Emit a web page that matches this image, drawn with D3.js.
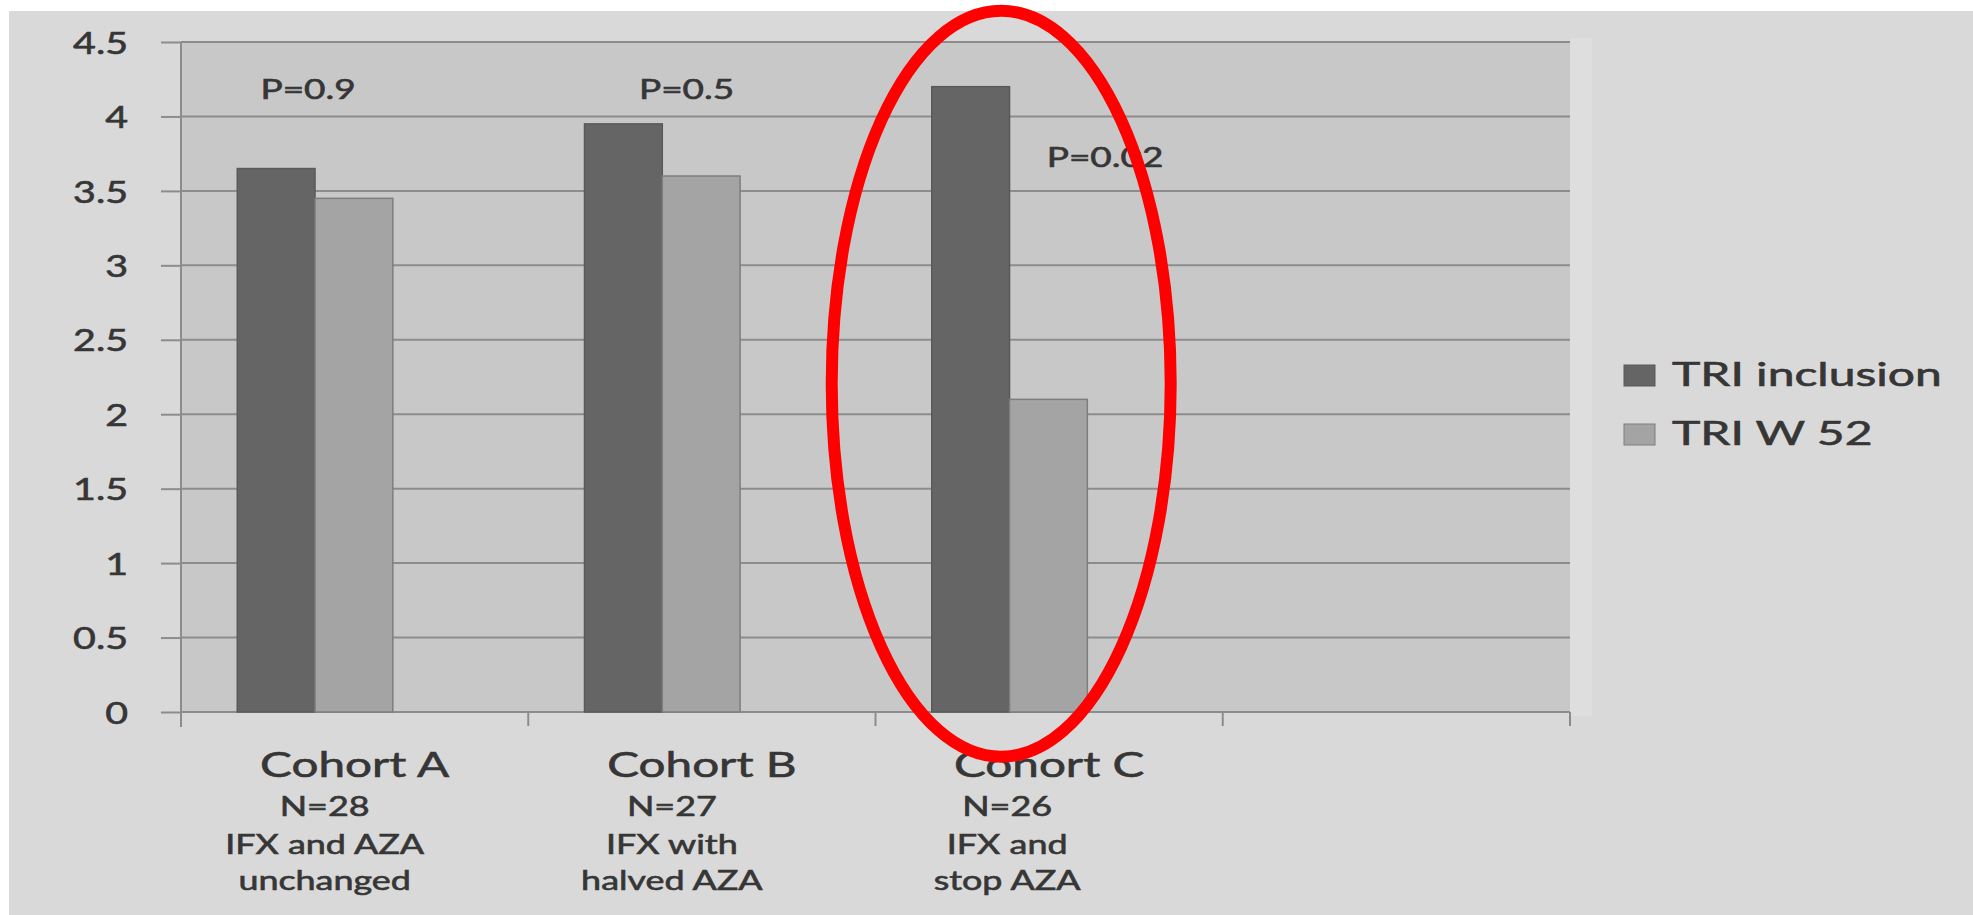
<!DOCTYPE html>
<html>
<head>
<meta charset="utf-8">
<script src="https://cdn.jsdelivr.net/npm/d3@7"></script>
<style>
  body { margin: 0; background: #ffffff; }
  svg { display: block; }
  text { font-family: Lato, "Open Sans", sans-serif; fill: #363636; stroke: #363636; stroke-width: 0.6px; }
</style>
</head>
<body>
<svg id="chart" width="1973" height="915"></svg>
<script>
// ---- data ----
const categories = ["Cohort A", "Cohort B", "Cohort C"];
const seriesNames = ["TRI inclusion", "TRI W 52"];
const triInclusion = [3.65, 3.95, 4.2];
const triW52 = [3.45, 3.6, 2.1];
const pLabels = ["P=0.9", "P=0.5", "P=0.02"];
const cohortSize = ["N=28", "N=27", "N=26"];
const regimenLine1 = ["IFX and AZA", "IFX with", "IFX and"];
const regimenLine2 = ["unchanged", "halved AZA", "stop AZA"];
const yTickValues = [0, 0.5, 1, 1.5, 2, 2.5, 3, 3.5, 4, 4.5];

// ---- layout ----
const W = 1973, H = 915;
const plot = { left: 181, right: 1570, top: 42, bottom: 712 };
const colors = { dark: "#656565", light: "#a4a4a4", grid: "#8c8c8c", page: "#d9d9d9", plotBg: "#c8c8c8" };
// P-value annotation anchors: fraction of band width and value height
const pAnchor = [{ f: 0.366, v: 4.12 }, { f: 0.456, v: 4.12 }, { f: 0.661, v: 3.66 }];
// horizontal offset of each cohort's description block from its band centre
const blockShift = [-30, -30, -42];
const stretch = { tick: 1.27, p: 1.42, title: 1.38, sub: 1.38, legend: 1.5 };

const svg = d3.select("#chart");

// slots: three cohorts plus an empty fourth position on the category axis
const slots = [...categories, " "];
const x = d3.scaleBand().domain(slots).range([plot.left, plot.right]);
const bw = x.bandwidth();
const xs = d3.scaleBand().domain(seriesNames).range([bw * 0.162, bw * 0.61]);
const y = d3.scaleLinear().domain([0, 4.5]).range([plot.bottom, plot.top]);
const fill = d3.scaleOrdinal().domain(seriesNames).range([colors.dark, colors.light]);
const stroke = d3.scaleOrdinal().domain(seriesNames).range(["#5a5a5a", "#7e7e7e"]);

// page and plot backgrounds
svg.append("rect").attr("x", 9).attr("y", 11).attr("width", W - 9).attr("height", H - 11)
  .attr("fill", colors.page);
svg.append("rect").attr("x", plot.right).attr("y", plot.top - 4).attr("width", 22)
  .attr("height", plot.bottom - plot.top + 8).attr("fill", "#dedede");
svg.append("rect").attr("x", plot.left).attr("y", plot.top)
  .attr("width", plot.right - plot.left).attr("height", plot.bottom - plot.top)
  .attr("fill", colors.plotBg);

// horizontal gridlines
svg.append("g").selectAll("line").data(yTickValues).join("line")
  .attr("x1", plot.left).attr("x2", plot.right)
  .attr("y1", d => y(d)).attr("y2", d => y(d))
  .attr("stroke", colors.grid).attr("stroke-width", 2);

// y axis with outward ticks
const yAxis = svg.append("g").attr("transform", `translate(${plot.left},0)`)
  .call(d3.axisLeft(y).tickValues(yTickValues).tickSize(20).tickFormat(d3.format("")));
yAxis.select(".domain").attr("stroke", colors.grid).attr("stroke-width", 2)
  .attr("d", `M0,${plot.top}V${plot.bottom + 15}`);
yAxis.selectAll(".tick line").attr("stroke", colors.grid).attr("stroke-width", 2);
yAxis.selectAll(".tick text")
  .attr("x", 0).attr("dy", "0.36em")
  .attr("transform", `translate(-53,0) scale(${stretch.tick},1)`)
  .attr("font-size", 31).attr("font-family", "Lato, sans-serif")
  .attr("fill", "#363636").attr("stroke", "#363636").attr("stroke-width", 0.7);

// category axis: baseline and boundary ticks
const xg = svg.append("g");
xg.append("line").attr("x1", plot.left).attr("x2", plot.right)
  .attr("y1", y(0)).attr("y2", y(0)).attr("stroke", colors.grid).attr("stroke-width", 2);
const edges = [...slots.map(d => x(d)), x.range()[1]];
xg.selectAll("line.tick").data(edges).join("line").attr("class", "tick")
  .attr("x1", d => d).attr("x2", d => d)
  .attr("y1", y(0)).attr("y2", y(0) + 14)
  .attr("stroke", colors.grid).attr("stroke-width", 2);

// bars
const rows = categories.map((c, i) => ({ cat: c, values: [triInclusion[i], triW52[i]] }));
const groups = svg.append("g").selectAll("g").data(rows).join("g")
  .attr("transform", d => `translate(${x(d.cat)},0)`);
groups.selectAll("rect").data(d => seriesNames.map((s, j) => ({ s, v: d.values[j] }))).join("rect")
  .attr("x", d => xs(d.s)).attr("width", xs.bandwidth())
  .attr("y", d => y(d.v)).attr("height", d => y(0) - y(d.v))
  .attr("fill", d => fill(d.s)).attr("stroke", d => stroke(d.s)).attr("stroke-width", 1.5);

// stretched text helper
function label(g, txt, tx, ty, size, sx, anchor) {
  return g.append("text")
    .attr("transform", `translate(${tx},${ty}) scale(${sx},1)`)
    .attr("text-anchor", anchor || "middle")
    .attr("font-size", size)
    .text(txt);
}

// P-value annotations
const ann = svg.append("g");
categories.forEach((c, i) => {
  label(ann, pLabels[i], x(c) + pAnchor[i].f * bw, y(pAnchor[i].v), 26, stretch.p);
});

// category labels with cohort descriptions
const cl = svg.append("g");
categories.forEach((c, i) => {
  const cx = x(c) + bw / 2;
  label(cl, c, cx, 777, 34.5, stretch.title);
  const bx = cx + blockShift[i];
  label(cl, cohortSize[i], bx, 816, 26, stretch.sub);
  label(cl, regimenLine1[i], bx, 854, 26, stretch.sub);
  label(cl, regimenLine2[i], bx, 890, 26, stretch.sub);
});

// legend
const lg = svg.append("g");
seriesNames.forEach((s, j) => {
  const top = 365 + j * 59;
  lg.append("rect").attr("x", 1624).attr("y", top).attr("width", 31).attr("height", 21)
    .attr("fill", fill(s)).attr("stroke", stroke(s)).attr("stroke-width", 1);
  label(lg, s, 1672, top + 21, 32, stretch.legend, "start");
});

// highlight ring around Cohort C
const ringTop = y(4.71), ringBottom = y(-0.30);
svg.append("ellipse")
  .attr("cx", x("Cohort C") + 0.362 * bw)
  .attr("cy", (ringTop + ringBottom) / 2)
  .attr("rx", 169.5)
  .attr("ry", (ringBottom - ringTop) / 2)
  .attr("fill", "none").attr("stroke", "#ff0000").attr("stroke-width", 12);
</script>
</body>
</html>
